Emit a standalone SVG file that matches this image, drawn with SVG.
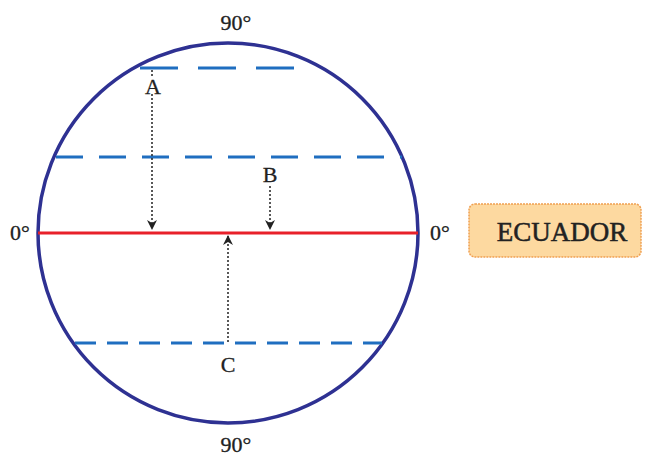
<svg xmlns="http://www.w3.org/2000/svg" width="652" height="457" viewBox="0 0 652 457">
<style>
.lbl{font-family:"Liberation Serif","Times New Roman",serif;font-size:22px;fill:#222;stroke:#222;stroke-width:0.3;text-anchor:middle}
.dash{stroke:#1F6EC0;stroke-width:3;fill:none}
.arr{stroke:#222;stroke-width:1.5;stroke-dasharray:2 2;fill:none}
</style>
<defs>
<marker id="ah" viewBox="0 0 10 10" refX="9" refY="5" markerWidth="10" markerHeight="10" markerUnits="userSpaceOnUse" orient="auto">
<path d="M0,0 L10,5 L0,10 L3,5 Z" fill="#222"/>
</marker>
</defs>
<rect width="652" height="457" fill="#fff"/>
<g id="globe">
<circle cx="228" cy="233" r="190" fill="none" stroke="#2E3192" stroke-width="3.5"/>
</g>
<g id="lines">
<line class="dash" x1="140" y1="68" x2="298" y2="68" stroke-dasharray="38 20"/>
<line class="dash" x1="56" y1="157" x2="402" y2="157" stroke-dasharray="27 16"/>
<line class="dash" x1="75" y1="343" x2="382" y2="343" stroke-dasharray="21 11"/>
<line id="equator" x1="38" y1="233" x2="418" y2="233" stroke="#E8202A" stroke-width="3"/>
</g>
<g id="connectors">
<line class="arr" x1="152" y1="70" x2="152" y2="229" marker-end="url(#ah)"/>
<line class="arr" x1="270" y1="186" x2="270" y2="229" marker-end="url(#ah)"/>
<line class="arr" x1="228" y1="342" x2="228" y2="236" marker-end="url(#ah)"/>
</g>
<g id="labels">
<rect x="144" y="78" width="16" height="16" fill="#fff"/>
<text class="lbl" x="153" y="94">A</text>
<text class="lbl" x="270" y="182">B</text>
<text class="lbl" x="228" y="372">C</text>
<text class="lbl" x="236" y="30">90°</text>
<text class="lbl" x="236" y="452">90°</text>
<text class="lbl" x="20" y="240">0°</text>
<text class="lbl" x="440" y="240">0°</text>
</g>
<g id="ecuador">
<rect x="469" y="204" width="172" height="53" rx="6" fill="#FDD9A0" stroke="#F0A050" stroke-width="1.5" stroke-dasharray="2 1"/>
<text x="562" y="241" font-family="'Liberation Serif','Times New Roman',serif" font-size="27" fill="#222" stroke="#222" stroke-width="0.5" text-anchor="middle">ECUADOR</text>
</g>
</svg>
